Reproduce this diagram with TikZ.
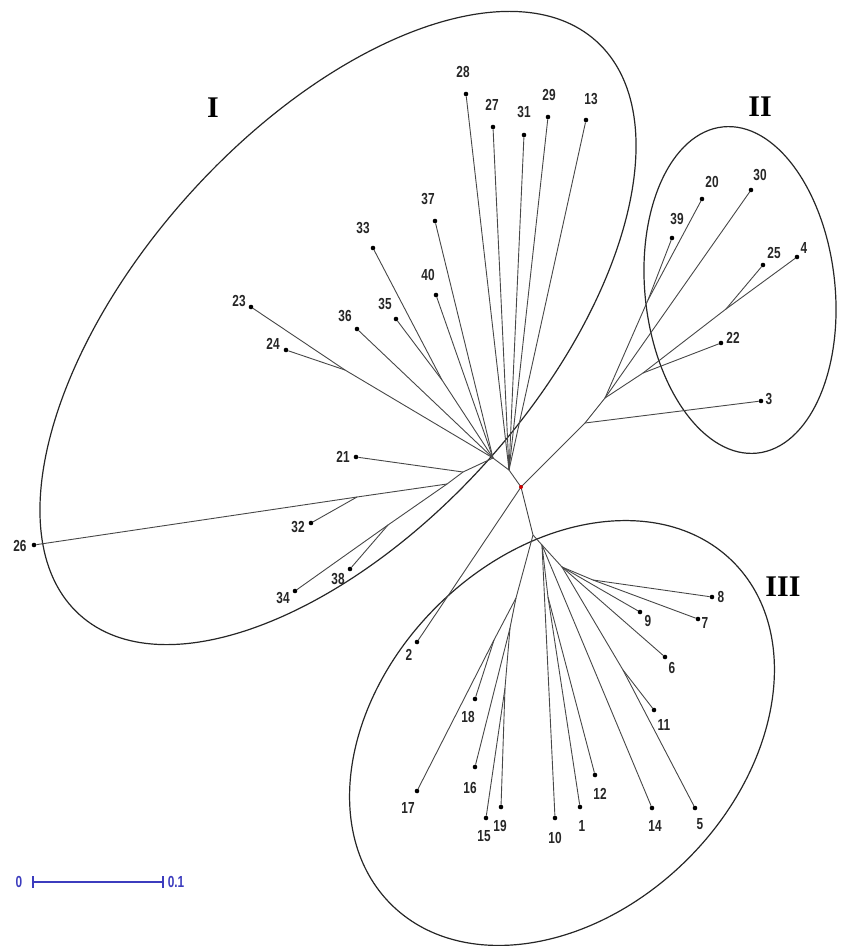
\documentclass[tikz,border=0pt]{standalone}
\usepackage{fontspec}
\newfontfamily\lblfont[FakeStretch=0.74]{Liberation Sans}
\newfontfamily\romfont{Liberation Serif}
\definecolor{sbar}{RGB}{60,60,190}
\begin{document}
\begin{tikzpicture}[x=1pt,y=-1pt,
 edge/.style={draw=black!72, line width=0.9pt},
 dot/.style={circle, fill=black, inner sep=0pt, minimum size=4.6pt},
 lbl/.style={font=\lblfont\bfseries\fontsize{16}{16}\selectfont, inner sep=0pt, text=black!85},
 grp/.style={font=\romfont\bfseries\fontsize{30}{30}\selectfont, inner sep=0pt},
 hull/.style={draw=black!85, line width=1.2pt},
 scl/.style={draw=sbar, line width=1.2pt},
 sclt/.style={font=\lblfont\bfseries\fontsize{16}{16}\selectfont, inner sep=0pt, text=sbar}
]
\useasboundingbox (0,0) rectangle (843,946);

% group outlines
\draw[hull, rotate around={48:(338,328)}] (338,328) ellipse [x radius=386pt, y radius=200pt];
\draw[hull, rotate around={6:(740,290)}] (740,290) ellipse [x radius=95pt, y radius=164pt];
\draw[hull, rotate around={45:(562,733)}] (562,733) ellipse [x radius=242pt, y radius=178pt];

% group labels
\node[grp] (gI) at (213,108) {I};
\node[grp] (gII) at (760,107) {II};
\node[grp] (gIII) at (783,587) {III};

% internal nodes
\coordinate (C) at (521,487);
\coordinate (E) at (509,470);
\coordinate (A) at (493,458);
\coordinate (J23) at (345,370);
\coordinate (J33) at (442,380);
\coordinate (F) at (463,472);
\coordinate (G) at (447,484);
\coordinate (H) at (357,497);
\coordinate (K38) at (388,525);
\coordinate (Q) at (585,423);
\coordinate (M) at (605,398);
\coordinate (P) at (648,300);
\coordinate (K) at (643,373);
\coordinate (L) at (726,309);
\coordinate (R) at (533,535);
\coordinate (S) at (542,545);
\coordinate (U) at (516,598);
\coordinate (V) at (494,640);
\coordinate (W) at (510,628);
\coordinate (W2) at (505,688);
\coordinate (X) at (548,597);
\coordinate (Y) at (562,567);
\coordinate (Z) at (593,580);
\coordinate (AA) at (623,670);

% leaves
\node[dot] (l28) at (466,94) {};
\node[dot] (l27) at (493,127) {};
\node[dot] (l31) at (524,135) {};
\node[dot] (l29) at (548,117) {};
\node[dot] (l13) at (586,120) {};
\node[dot] (l37) at (435,221) {};
\node[dot] (l40) at (436,295) {};
\node[dot] (l23) at (251,307) {};
\node[dot] (l24) at (286,350) {};
\node[dot] (l36) at (357,329) {};
\node[dot] (l35) at (396,319) {};
\node[dot] (l33) at (373,248) {};
\node[dot] (l21) at (356,457) {};
\node[dot] (l32) at (311,523) {};
\node[dot] (l26) at (34,545) {};
\node[dot] (l34) at (295,591) {};
\node[dot] (l38) at (350,569) {};
\node[dot] (l39) at (672,238) {};
\node[dot] (l20) at (702,199) {};
\node[dot] (l30) at (751,190) {};
\node[dot] (l25) at (763,265) {};
\node[dot] (l4) at (797,257) {};
\node[dot] (l22) at (721,343) {};
\node[dot] (l3) at (761,401) {};
\node[dot] (l8) at (712,597) {};
\node[dot] (l7) at (698,619) {};
\node[dot] (l9) at (640,612) {};
\node[dot] (l6) at (665,657) {};
\node[dot] (l11) at (654,710) {};
\node[dot] (l5) at (695,808) {};
\node[dot] (l14) at (652,808) {};
\node[dot] (l12) at (595,775) {};
\node[dot] (l1) at (580,807) {};
\node[dot] (l10) at (555,818) {};
\node[dot] (l19) at (501,807) {};
\node[dot] (l15) at (486,818) {};
\node[dot] (l16) at (475,767) {};
\node[dot] (l18) at (475,699) {};
\node[dot] (l17) at (417,791) {};
\node[dot] (l2) at (417,642) {};

% leaf labels
\node[lbl] (t28) at (463,72) {28};
\node[lbl] (t27) at (492,105) {27};
\node[lbl] (t31) at (524,112) {31};
\node[lbl] (t29) at (549,95) {29};
\node[lbl] (t13) at (591,99) {13};
\node[lbl] (t37) at (428,199) {37};
\node[lbl] (t40) at (428,275) {40};
\node[lbl] (t23) at (239,301) {23};
\node[lbl] (t24) at (273,344) {24};
\node[lbl] (t36) at (345,316) {36};
\node[lbl] (t35) at (385,304) {35};
\node[lbl] (t33) at (363,228) {33};
\node[lbl] (t21) at (343,457) {21};
\node[lbl] (t32) at (298,527) {32};
\node[lbl] (t26) at (20,546) {26};
\node[lbl] (t34) at (283,598) {34};
\node[lbl] (t38) at (338,579) {38};
\node[lbl] (t39) at (677,219) {39};
\node[lbl] (t20) at (712,182) {20};
\node[lbl] (t30) at (760,175) {30};
\node[lbl] (t25) at (774,253) {25};
\node[lbl] (t4) at (804,248) {4};
\node[lbl] (t22) at (733,338) {22};
\node[lbl] (t3) at (769,399) {3};
\node[lbl] (t8) at (721,597) {8};
\node[lbl] (t7) at (705,623) {7};
\node[lbl] (t9) at (648,621) {9};
\node[lbl] (t6) at (672,668) {6};
\node[lbl] (t11) at (664,725) {11};
\node[lbl] (t5) at (700,824) {5};
\node[lbl] (t14) at (655,826) {14};
\node[lbl] (t12) at (600,794) {12};
\node[lbl] (t1) at (582,826) {1};
\node[lbl] (t10) at (555,838) {10};
\node[lbl] (t19) at (500,826) {19};
\node[lbl] (t15) at (484,836) {15};
\node[lbl] (t16) at (470,788) {16};
\node[lbl] (t18) at (468,717) {18};
\node[lbl] (t17) at (408,808) {17};
\node[lbl] (t2) at (409,655) {2};

% branches: cluster I
\draw[edge] (C) -- (E) -- (A);
\foreach \n in {28,27,31,29,13} \draw[edge] (E) -- (l\n);
\draw[edge] (A) -- (l37);
\draw[edge] (A) -- (l40);
\draw[edge] (A) -- (J33);
\draw[edge] (J33) -- (l33);
\draw[edge] (J33) -- (l35);
\draw[edge] (A) -- (l36);
\draw[edge] (A) -- (J23);
\draw[edge] (J23) -- (l23);
\draw[edge] (J23) -- (l24);
\draw[edge] (A) -- (F);
\draw[edge] (F) -- (l21);
\draw[edge] (F) -- (G);
\draw[edge] (G) -- (H);
\draw[edge] (H) -- (l26);
\draw[edge] (H) -- (l32);
\draw[edge] (G) -- (K38);
\draw[edge] (K38) -- (l34);
\draw[edge] (K38) -- (l38);

% cluster II
\draw[edge] (C) -- (Q);
\draw[edge] (Q) -- (l3);
\draw[edge] (Q) -- (M);
\draw[edge] (M) -- (K);
\draw[edge] (K) -- (l22);
\draw[edge] (K) -- (L);
\draw[edge] (L) -- (l25);
\draw[edge] (L) -- (l4);
\draw[edge] (M) -- (l30);
\draw[edge] (M) -- (P);
\draw[edge] (P) -- (l39);
\draw[edge] (P) -- (l20);

% cluster III
\draw[edge] (C) -- (l2);
\draw[edge] (C) -- (R) -- (S);
\draw[edge] (R) -- (U);
\draw[edge] (U) -- (V);
\draw[edge] (V) -- (l17);
\draw[edge] (V) -- (l18);
\draw[edge] (U) -- (W);
\draw[edge] (W) -- (l16);
\draw[edge] (W) -- (W2);
\draw[edge] (W2) -- (l15);
\draw[edge] (W2) -- (l19);
\draw[edge] (S) -- (l10);
\draw[edge] (S) -- (X);
\draw[edge] (X) -- (l1);
\draw[edge] (X) -- (l12);
\draw[edge] (S) -- (l14);
\draw[edge] (S) -- (Y);
\draw[edge] (Y) -- (Z);
\draw[edge] (Z) -- (l8);
\draw[edge] (Z) -- (l7);
\draw[edge] (Y) -- (l9);
\draw[edge] (Y) -- (l6);
\draw[edge] (Y) -- (AA);
\draw[edge] (AA) -- (l11);
\draw[edge] (AA) -- (l5);

% root mark
\fill[red!80!black] (C) circle (2pt);

% scale bar
\node[sclt] (s0) at (19,882) {0};
\coordinate (b0) at (33,882);
\coordinate (b1) at (163,882);
\draw[scl] (b0) -- (b1);
\draw[scl] ([yshift=-6pt]b0) -- ([yshift=6pt]b0);
\draw[scl] ([yshift=-6pt]b1) -- ([yshift=6pt]b1);
\node[sclt] (s1) at (176,882) {0.1};
\end{tikzpicture}
\end{document}
